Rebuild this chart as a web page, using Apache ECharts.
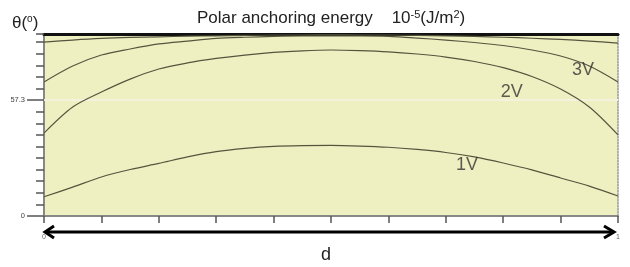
<!DOCTYPE html>
<html>
<head>
<meta charset="utf-8">
<title>Polar anchoring energy</title>
<script src="https://cdn.jsdelivr.net/npm/echarts@6/dist/echarts.min.js"></script>
<style>
  html, body { margin: 0; padding: 0; background: #fff; }
  #main { width: 630px; height: 267px; }
</style>
</head>
<body>
<div id="main"></div>
<script type="text/javascript">
// position across the cell, d (0..1)
var dPos = [0, 0.05, 0.1, 0.15, 0.2, 0.25, 0.3, 0.35, 0.4, 0.45, 0.5,
            0.55, 0.6, 0.65, 0.7, 0.75, 0.8, 0.85, 0.9, 0.95, 1];
// tilt angle theta (degrees) for each voltage
var theta1V = [9.5, 14.3, 19.3, 23.0, 26.0, 29.2, 31.8, 33.4, 34.4, 34.8, 34.9,
               34.6, 34.0, 32.9, 31.4, 29.2, 26.2, 22.8, 18.8, 14.8, 9.9];
var theta2V = [41.0, 53.9, 61.3, 67.7, 72.7, 75.7, 77.9, 79.6, 80.9, 81.7, 82.1,
               81.8, 81.2, 80.1, 78.6, 76.4, 73.4, 69.0, 62.8, 53.9, 40.1];
var theta3V = [66.3, 74.2, 79.6, 82.6, 85.1, 86.5, 87.8, 88.4, 88.8, 89.0, 89.0,
               89.0, 88.8, 88.0, 87.0, 85.8, 84.3, 82.1, 79.1, 74.2, 66.3];
var thetaTop = [86.0, 87.0, 87.8, 88.3, 88.6, 88.9, 89.1, 89.3, 89.5, 89.5, 89.6,
                89.5, 89.5, 89.3, 89.1, 88.8, 88.4, 87.9, 87.3, 86.5, 85.5];
// curve labels: [text, d, theta]
var curveLabels = [['1V', 0.737, 25.2], ['2V', 0.815, 61.3], ['3V', 0.939, 72.2]];
var yLabelValues = [0, 57.3];
var xLabelValues = [0, 1];

var chart = echarts.init(document.getElementById('main'));

function pairs(ys) {
  var out = [];
  for (var i = 0; i < dPos.length; i++) out.push([dPos[i], ys[i]]);
  return out;
}

function lineSeries(name, ys) {
  return {
    name: name,
    type: 'line',
    z: 3,
    data: pairs(ys),
    showSymbol: false,
    smooth: 0.3,
    silent: true,
    lineStyle: { color: '#55553f', width: 1.2 }
  };
}

var series = [
  {
    // faint guide at 57.3, kept under the curves
    type: 'line', z: 1, data: [], silent: true,
    markLine: {
      z: 1,
      silent: true, symbol: 'none', label: { show: false },
      lineStyle: { color: '#f3f2dc', width: 2, type: 'solid' },
      data: [{ yAxis: 57.3 }]
    }
  },
  lineSeries('1V', theta1V),
  lineSeries('2V', theta2V),
  lineSeries('3V', theta3V),
  lineSeries('top', thetaTop),
  {
    type: 'scatter', z: 4, silent: true,
    symbolSize: 1,
    itemStyle: { color: 'rgba(0,0,0,0)' },
    data: curveLabels.map(function (c) { return { name: c[0], value: [c[1], c[2]] }; }),
    label: {
      show: true,
      position: 'inside',
      fontFamily: 'Liberation Sans, Arial',
      fontSize: 18,
      color: '#333',
      formatter: function (p) { return p.name; }
    }
  }
];

var option = {
  animation: false,
  textStyle: { fontFamily: 'Liberation Sans, Arial, sans-serif' },
  title: {
    left: 192,
    top: 4,
    text: 'Polar anchoring energy    10{s|-5}(J/m{s|2})',
    textStyle: {
      fontSize: 17,
      fontWeight: 'normal',
      color: '#222',
      rich: { s: { fontSize: 11, verticalAlign: 'top', padding: [0, 0, 8, 0], color: '#222' } }
    }
  },
  grid: {
    left: 44, right: 12, top: 34, bottom: 51,
    show: true,
    backgroundColor: '#eff0c1',
    borderWidth: 0
  },
  xAxis: [{
    type: 'value', min: 0, max: 1, interval: 0.1, position: 'bottom',
    axisLine: { show: true, onZero: false, lineStyle: { color: '#888', width: 2 } },
    axisTick: { show: true, length: 7, lineStyle: { color: '#555', width: 1.5 } },
    axisLabel: {
      customValues: xLabelValues, fontSize: 7, color: '#666', margin: 18,
      formatter: function (v) { return String(v); }
    },
    splitLine: { show: false }
  }, {
    type: 'value', min: 0, max: 1, position: 'top',
    axisLine: { show: true, onZero: false, lineStyle: { color: '#111', width: 3 } },
    axisTick: { show: false },
    axisLabel: { show: false },
    splitLine: { show: false }
  }],
  yAxis: [{
    type: 'value', min: 0, max: 90, interval: 5.73, position: 'left',
    axisLine: { show: true, onZero: false, lineStyle: { color: '#888', width: 2 } },
    axisTick: { show: true, length: 8, lineStyle: { color: '#555', width: 1.5 } },
    axisLabel: {
      customValues: yLabelValues, fontSize: 7.5, color: '#444', margin: 19,
      formatter: function (v) { return String(v); }
    },
    splitLine: { show: false }
  }, {
    type: 'value', min: 0, max: 90, position: 'left',
    axisLine: { show: false, onZero: false },
    axisTick: { show: true, customValues: yLabelValues, length: 17, lineStyle: { color: '#555', width: 1.5 } },
    axisLabel: { show: false },
    splitLine: { show: false }
  }, {
    type: 'value', min: 0, max: 90, position: 'right',
    axisLine: { show: true, onZero: false, lineStyle: { color: '#999', width: 1.5, type: 'dotted' } },
    axisTick: { show: false },
    axisLabel: { show: false },
    splitLine: { show: false }
  }],
  graphic: [
    {
      type: 'text', left: 12, top: 14,
      style: {
        text: 'θ({s|o})',
        fontSize: 17, fill: '#222', fontFamily: 'Liberation Sans, Arial',
        rich: { s: { fontSize: 10, verticalAlign: 'top', padding: [0, 0, 8, 0], fill: '#222' } }
      }
    },
    {
      type: 'text', left: 321, top: 246,
      style: { text: 'd', fontSize: 18, fill: '#222', fontFamily: 'Liberation Sans, Arial' }
    },
    {
      type: 'group',
      children: [
        { type: 'line', shape: { x1: 46, y1: 232, x2: 613, y2: 232 }, style: { stroke: '#000', lineWidth: 3 } },
        { type: 'polyline', shape: { points: [[54, 226], [45, 232], [54, 238]] }, style: { stroke: '#000', lineWidth: 3, fill: null } },
        { type: 'polyline', shape: { points: [[604, 226], [614, 232], [604, 238]] }, style: { stroke: '#000', lineWidth: 3, fill: null } }
      ]
    }
  ],
  series: series
};

chart.setOption(option);
</script>
</body>
</html>
